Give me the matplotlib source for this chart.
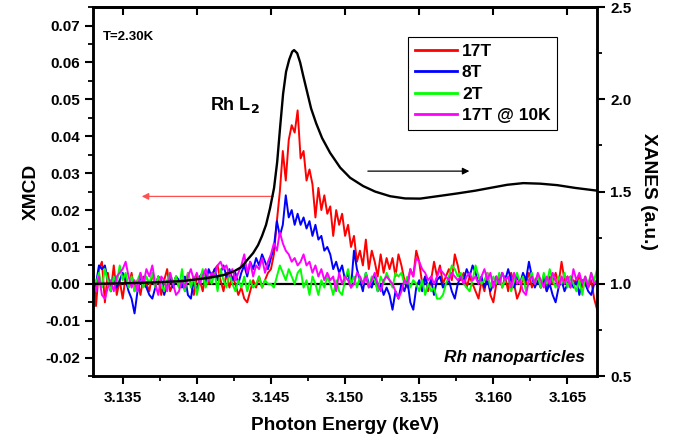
import numpy as np
import matplotlib
matplotlib.use("Agg")
import matplotlib.pyplot as plt
from matplotlib.ticker import MultipleLocator

plt.rcParams['font.family'] = ['Liberation Sans', 'DejaVu Sans']
plt.rcParams['font.weight'] = 'bold'

# energy grid of the XMCD scans (keV), 0.2 eV step
energy = np.round(3.1330 + 0.0002 * np.arange(171), 4)

xmcd_17T = [
    0.005, -0.006, 0.004, 0.006, -0.005, 0.003, -0.002, 0.005, -0.003, 0.001,
    -0.004, 0.002, -0.001, 0.003, -0.002, 0.001, -0.003, 0.002, 0.000, -0.002,
    0.003, -0.001, 0.002, -0.003, 0.001, 0.004, -0.002, 0.000, 0.002, -0.001,
    0.001, -0.002, 0.003, 0.000, -0.003, 0.002, 0.001, -0.002, 0.003, 0.000,
    0.002, 0.004, 0.005, 0.001, -0.002, 0.003, -0.001, 0.002, 0.000, -0.003,
    -0.001, -0.004, -0.005, -0.002, 0.001, -0.001, 0.002, -0.001, 0.001, 0.003,
    0.004, 0.008, 0.017, 0.025, 0.036, 0.028, 0.039, 0.043, 0.041, 0.047,
    0.034, 0.036, 0.028, 0.031, 0.027, 0.018, 0.026, 0.020, 0.024, 0.019,
    0.021, 0.013, 0.020, 0.016, 0.019, 0.013, 0.016, 0.010, 0.013, 0.006,
    0.009, 0.005, 0.012, 0.004, 0.009, 0.006, 0.002, 0.008, 0.003, 0.007,
    0.004, 0.007, 0.002, 0.008, 0.005, 0.001, -0.001, 0.004, 0.002, 0.009,
    0.006, 0.000, 0.002, -0.002, 0.001, 0.006, 0.002, 0.005, 0.000, 0.002,
    0.004, 0.001, 0.008, 0.005, 0.001, 0.003, -0.001, 0.002, 0.000, -0.002,
    -0.004, 0.001, -0.002, 0.003, -0.003, -0.005, 0.000, 0.002, -0.001, 0.002,
    -0.002, 0.003, 0.000, -0.004, -0.002, 0.002, 0.000, 0.003, -0.001, 0.001,
    0.002, -0.001, 0.001, -0.002, 0.002, 0.000, 0.003, 0.000, 0.006, 0.001,
    0.002, -0.001, 0.001, 0.000, 0.002, -0.001, 0.001, -0.001, 0.001, -0.004,
    -0.007,
]

xmcd_8T = [
    -0.004, 0.000, 0.005, 0.004, 0.005, 0.001, -0.002, 0.002, -0.001, 0.001,
    0.003, 0.001, -0.002, -0.004, -0.008, -0.002, 0.002, 0.000, -0.001, -0.003,
    -0.004, -0.001, 0.002, 0.001, -0.003, 0.000, 0.002, -0.001, 0.002, 0.001,
    -0.001, 0.002, -0.003, -0.004, 0.001, -0.002, 0.002, 0.003, 0.000, 0.004,
    0.002, 0.004, 0.001, 0.003, 0.005, 0.002, 0.004, 0.001, 0.003, 0.000,
    0.003, 0.005, 0.002, 0.006, 0.004, 0.007, 0.005, 0.008, 0.006, 0.004,
    0.007, 0.010, 0.017, 0.013, 0.016, 0.024, 0.018, 0.020, 0.016, 0.019,
    0.016, 0.018, 0.015, 0.017, 0.013, 0.016, 0.012, 0.013, 0.009, 0.010,
    0.008, 0.004, 0.006, 0.003, 0.005, 0.001, 0.003, -0.001, 0.009, 0.004,
    0.001, -0.002, 0.003, 0.000, -0.001, 0.002, -0.002, 0.000, -0.003, -0.001,
    -0.003, -0.007, -0.002, -0.004, 0.000, -0.002, 0.001, -0.005, -0.007, -0.001,
    0.001, -0.002, 0.002, -0.001, 0.001, -0.003, 0.001, 0.002, -0.001, 0.000,
    0.001, -0.002, -0.004, 0.000, 0.002, 0.001, 0.004, 0.002, 0.005, 0.003,
    0.000, 0.002, -0.001, 0.001, -0.002, 0.000, 0.002, 0.000, 0.003, 0.001,
    0.004, 0.001, -0.001, 0.002, 0.000, 0.003, 0.001, 0.006, 0.002, -0.001,
    0.001, -0.001, 0.002, -0.002, 0.000, -0.003, -0.005, -0.001, 0.001, -0.002,
    0.000, 0.002, -0.001, 0.001, -0.003, 0.001, 0.000, -0.002, -0.003, 0.000,
    0.001,
]

xmcd_2T = [
    0.002, 0.000, 0.003, -0.001, 0.004, 0.001, -0.002, 0.002, 0.000, 0.005,
    0.001, 0.003, -0.001, 0.002, -0.002, 0.001, 0.003, -0.001, 0.002, 0.000,
    0.003, -0.001, 0.002, 0.000, -0.002, 0.001, 0.003, 0.000, 0.002, -0.001,
    0.004, -0.002, 0.003, -0.001, 0.002, -0.003, 0.001, 0.004, -0.001, 0.002,
    0.000, 0.003, -0.002, 0.004, 0.001, -0.001, 0.003, 0.000, -0.002, 0.001,
    -0.001, 0.002, -0.002, 0.001, -0.001, 0.000, 0.002, -0.001, 0.001, 0.000,
    0.000, -0.001, 0.002, 0.005, 0.003, 0.001, 0.004, 0.002, 0.000, 0.003,
    0.004, -0.001, 0.001, -0.003, 0.002, 0.000, -0.003, 0.001, -0.001, 0.002,
    0.000, -0.003, 0.001, -0.002, -0.003, 0.001, 0.004, 0.000, 0.002, -0.001,
    0.002, 0.000, 0.003, -0.001, 0.002, 0.001, -0.002, 0.002, 0.000, 0.003,
    0.001, -0.001, 0.003, 0.002, 0.003, 0.000, 0.002, -0.001, 0.001, 0.000,
    -0.002, 0.001, -0.003, 0.000, -0.002, -0.001, -0.004, -0.004, -0.003, 0.000,
    0.002, 0.005, 0.004, 0.002, 0.003, 0.000, -0.001, -0.002, 0.001, 0.005,
    0.002, 0.000, 0.001, 0.003, -0.001, 0.002, 0.000, 0.003, -0.001, 0.001,
    0.002, -0.002, 0.001, 0.003, 0.000, 0.002, -0.002, 0.001, 0.003, 0.000,
    0.002, -0.001, 0.003, 0.000, 0.004, 0.001, -0.001, 0.002, 0.000, 0.003,
    -0.001, 0.002, 0.000, -0.002, 0.001, -0.003, 0.002, 0.000, 0.003, 0.001,
    0.004,
]

xmcd_17T_10K = [
    0.001, -0.002, 0.002, -0.003, -0.004, -0.001, 0.001, -0.002, 0.002, 0.003,
    0.004, 0.006, 0.002, -0.001, 0.001, -0.002, 0.003, 0.000, 0.004, 0.002,
    0.005, 0.000, -0.003, 0.002, 0.001, -0.002, 0.003, 0.000, -0.003, -0.002,
    0.001, -0.001, 0.002, 0.004, 0.001, 0.003, 0.000, 0.002, 0.004, 0.001,
    0.003, 0.002, 0.005, 0.006, 0.004, 0.005, 0.002, 0.004, 0.001, 0.003,
    0.005, 0.008, 0.003, 0.006, 0.002, 0.005, 0.004, 0.007, 0.003, 0.006,
    0.008, 0.011, 0.009, 0.014, 0.011, 0.009, 0.008, 0.006, 0.007, 0.005,
    0.006, 0.008, 0.005, 0.006, 0.003, 0.005, 0.002, 0.004, 0.001, 0.003,
    0.001, 0.002, -0.002, 0.003, 0.000, 0.002, 0.001, -0.001, 0.000, 0.003,
    0.002, 0.000, 0.002, -0.001, 0.001, 0.003, 0.000, -0.002, 0.001, 0.002,
    0.001, 0.000, -0.002, -0.004, -0.002, 0.001, 0.000, 0.004, 0.002, 0.007,
    0.006, 0.004, 0.003, 0.001, 0.002, 0.000, 0.002, 0.004, 0.003, 0.002,
    0.001, 0.003, 0.002, 0.001, 0.002, 0.000, 0.002, 0.003, 0.001, 0.002,
    0.000, 0.002, 0.004, 0.001, 0.003, -0.001, 0.002, 0.000, 0.003, 0.001,
    0.002, -0.001, 0.003, 0.000, 0.001, -0.002, -0.003, 0.001, 0.002, 0.000,
    0.003, 0.001, -0.001, 0.002, 0.000, 0.003, 0.001, -0.001, 0.002, 0.000,
    0.002, -0.001, 0.004, 0.001, 0.003, 0.000, 0.002, -0.001, 0.003, 0.000,
    0.001,
]

# XANES (right axis)
xanes_energy = [
    3.13300, 3.13502, 3.13705, 3.13901, 3.14056, 3.14177, 3.14251, 3.14299,
    3.14346, 3.14380, 3.14413, 3.14440, 3.14467, 3.14494, 3.14521, 3.14542,
    3.14562, 3.14582, 3.14602, 3.14623, 3.14643, 3.14656, 3.14677, 3.14697,
    3.14717, 3.14744, 3.14771, 3.14805, 3.14845, 3.14899, 3.14967, 3.15034,
    3.15122, 3.15203, 3.15304, 3.15405, 3.15506, 3.15641, 3.15756, 3.15878,
    3.15979, 3.16094, 3.16202, 3.16316, 3.16431, 3.16552, 3.16701,
]
xanes = [
    1.000, 1.003, 1.008, 1.015, 1.030, 1.047, 1.068, 1.090,
    1.135, 1.167, 1.210, 1.260, 1.320, 1.410, 1.520, 1.660,
    1.850, 2.030, 2.150, 2.215, 2.258, 2.267, 2.250, 2.200,
    2.130, 2.040, 1.950, 1.870, 1.790, 1.710, 1.630, 1.575,
    1.530, 1.500, 1.475, 1.463, 1.462, 1.477, 1.490, 1.505,
    1.520, 1.537, 1.546, 1.543, 1.535, 1.520, 1.505,
]

series = [
    (xmcd_17T, '#ff0000', '17T'),
    (xmcd_8T, '#0000ff', '8T'),
    (xmcd_2T, '#00ff00', '2T'),
    (xmcd_17T_10K, '#ff00ff', '17T @ 10K'),
]

fig = plt.figure(figsize=(6.84, 4.42), dpi=100)
ax = fig.add_axes([0.136, 0.149, 0.737, 0.835])
ax2 = ax.twinx()

ax.axhline(0, color='black', lw=1.6, zorder=1)
for vals, col, lab in series:
    ax.plot(energy, vals, color=col, lw=1.4, label=lab, zorder=2)

ax2.plot(xanes_energy, xanes, color='black', lw=1.7)

ax.set_xlim(3.133, 3.167)
ax.set_ylim(-0.025, 0.075)
ax2.set_ylim(0.5, 2.5)

ax.xaxis.set_major_locator(MultipleLocator(0.005))
ax.xaxis.set_minor_locator(MultipleLocator(0.0025))
ax.yaxis.set_major_locator(MultipleLocator(0.01))
ax.yaxis.set_minor_locator(MultipleLocator(0.005))
ax2.yaxis.set_major_locator(MultipleLocator(0.5))
ax2.yaxis.set_minor_locator(MultipleLocator(0.25))
ax.xaxis.set_major_formatter(matplotlib.ticker.FormatStrFormatter('%.3f'))
ax.yaxis.set_major_formatter(matplotlib.ticker.FormatStrFormatter('%.2f'))
ax2.yaxis.set_major_formatter(matplotlib.ticker.FormatStrFormatter('%.1f'))

for a in (ax, ax2):
    for s in a.spines.values():
        s.set_linewidth(1.8)
ax.tick_params(axis='both', which='major', direction='out', length=6, width=1.5,
               labelsize=11)
ax.tick_params(axis='both', which='minor', direction='out', length=3.5, width=1.3)
ax.tick_params(axis='x', which='major', pad=5)
ax2.tick_params(axis='y', which='major', direction='out', length=6, width=1.5,
                labelsize=11)
ax2.tick_params(axis='y', which='minor', direction='out', length=3.5, width=1.3)
# top ticks point into the frame
secx = ax.secondary_xaxis('top')
secx.xaxis.set_major_locator(MultipleLocator(0.005))
secx.tick_params(direction='in', length=6, width=1.5, labeltop=False)
secx.spines['top'].set_linewidth(1.8)

ax.set_xlabel('Photon Energy (keV)', fontsize=13.8, fontweight='bold', labelpad=8)
ax.set_ylabel('XMCD', fontsize=13.8, fontweight='bold', labelpad=4)
ax2.set_ylabel('XANES (a.u.)', fontsize=13.8, fontweight='bold', rotation=270,
               labelpad=18)

ax.text(0.02, 0.919, 'T=2.30K', transform=ax.transAxes, fontsize=9.5,
        fontweight='bold', va='center', ha='left')
ax.text(0.232, 0.734, 'Rh L$_\\mathbf{2}$', transform=ax.transAxes, fontsize=13,
        fontweight='bold', va='center', ha='left')
ax.text(0.976, 0.051, 'Rh nanoparticles', transform=ax.transAxes, fontsize=12.5,
        fontweight='bold', style='italic', va='center', ha='right')

ax.annotate('', xy=(3.1361, 0.0237), xytext=(3.14535, 0.0237),
            arrowprops=dict(arrowstyle='-|>', color='#ff5050', lw=0.9,
                            mutation_scale=10))
ax2.annotate('', xy=(3.15857, 1.611), xytext=(3.15135, 1.611),
             arrowprops=dict(arrowstyle='-|>', color='black', lw=0.9,
                             mutation_scale=10))

leg = ax.legend(loc='upper left', bbox_to_anchor=(0.625, 0.919), fontsize=12.5,
                handlelength=2.4, labelspacing=0.36, borderpad=0.4,
                borderaxespad=0, handletextpad=0.3, fancybox=False,
                framealpha=1, edgecolor='black')
leg.get_frame().set_linewidth(0.8)
for t in leg.get_texts():
    t.set_fontweight('bold')
for l in leg.get_lines():
    l.set_linewidth(2.0)

fig.savefig('out.png', dpi=100)
